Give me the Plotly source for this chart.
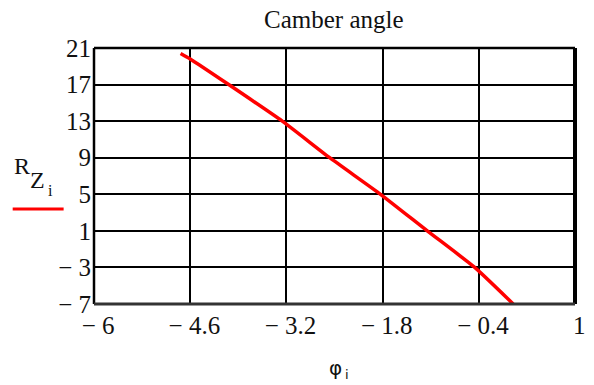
import plotly.graph_objects as go

# Camber angle curve: phi_i versus R_Z_i
phi = [-4.74, -4.60, -4.04, -3.26, -2.57, -1.83, -1.15, -0.46, 0.10]
rz = [20.4, 19.8, 17.0, 13.0, 9.0, 5.0, 1.0, -3.0, -7.0]

x_ticks = [-6, -4.6, -3.2, -1.8, -0.4, 1]
x_labels = ["\u2004\u2212 6", "\u2004\u2212 4.6", "\u2004\u2212 3.2",
            "\u2004\u2212 1.8", "\u2004\u2212 0.4", "\u20041"]
y_ticks = [21, 17, 13, 9, 5, 1, -3, -7]
y_labels = ["21", "17", "13", "9", "5", "1", "\u2212 3", "\u2212 7"]

W, H = 594, 385
L, R, T, B = 94, 9, 48, 81
pw, ph = W - L - R, H - T - B


def px(xp):
    return (xp - L) / pw


def py(yp):
    return (H - B - yp) / ph


serif = "'Times New Roman', 'Liberation Serif', 'DejaVu Serif', serif"

fig = go.Figure()
fig.add_trace(go.Scatter(x=phi, y=rz, mode="lines",
                         line=dict(color="#ff0000", width=3.5, shape="spline",
                                   smoothing=0.5),
                         showlegend=False, hoverinfo="skip"))

axis_common = dict(showgrid=True, gridcolor="#000000", gridwidth=2,
                   zeroline=False, showline=False, ticks="",
                   ticklabeloverflow="allow",
                   tickfont=dict(family=serif, size=25, color="#111111"))

fig.update_xaxes(range=[-6, 1], tickmode="array", tickvals=x_ticks,
                 ticktext=x_labels, ticklabelstandoff=4, **axis_common)
fig.update_yaxes(range=[-7, 21], tickmode="array", tickvals=y_ticks,
                 ticktext=y_labels, ticklabelstandoff=2, **axis_common)

# plot frame, heavier along the right and bottom edges
fig.add_shape(type="line", xref="paper", yref="paper", x0=0, x1=0, y0=0, y1=1,
              line=dict(color="#000", width=2.5))
fig.add_shape(type="line", xref="paper", yref="paper", x0=0, x1=1, y0=1, y1=1,
              line=dict(color="#000", width=2.5))
fig.add_shape(type="line", xref="paper", yref="paper", x0=1, x1=1, y0=0, y1=1,
              line=dict(color="#000", width=4))
fig.add_shape(type="line", xref="paper", yref="paper", x0=0, x1=1, y0=0, y1=0,
              line=dict(color="#333", width=3))

# trace marker under the y-axis label
fig.add_shape(type="line", xref="paper", yref="paper",
              x0=px(11), x1=px(63), y0=py(209), y1=py(209),
              line=dict(color="#ff0000", width=3))

ann = []
ann.append(dict(text="Camber angle", x=px(339), y=py(19), xref="paper", yref="paper",
                showarrow=False, xanchor="center", yanchor="middle",
                font=dict(family=serif, size=25, color="#111111")))
ann.append(dict(text="R", x=px(20), y=py(166), xref="paper", yref="paper",
                showarrow=False, xanchor="center", yanchor="middle",
                font=dict(family=serif, size=24, color="#111111")))
ann.append(dict(text="Z", x=px(36), y=py(180), xref="paper", yref="paper",
                showarrow=False, xanchor="center", yanchor="middle",
                font=dict(family=serif, size=24, color="#111111")))
ann.append(dict(text="i", x=px(50), y=py(190), xref="paper", yref="paper",
                showarrow=False, xanchor="center", yanchor="middle",
                font=dict(family=serif, size=16, color="#111111")))
ann.append(dict(text="\u03c6", x=px(341), y=py(368), xref="paper", yref="paper",
                showarrow=False, xanchor="center", yanchor="middle",
                font=dict(family="DejaVu Sans", size=20, color="#111111")))
ann.append(dict(text="i", x=px(352), y=py(374), xref="paper", yref="paper",
                showarrow=False, xanchor="center", yanchor="middle",
                font=dict(family="DejaVu Sans", size=13, color="#111111")))

fig.update_layout(width=W, height=H, margin=dict(l=L, r=R, t=T, b=B),
                  paper_bgcolor="white", plot_bgcolor="white",
                  annotations=ann)

fig.write_html("out.html")
